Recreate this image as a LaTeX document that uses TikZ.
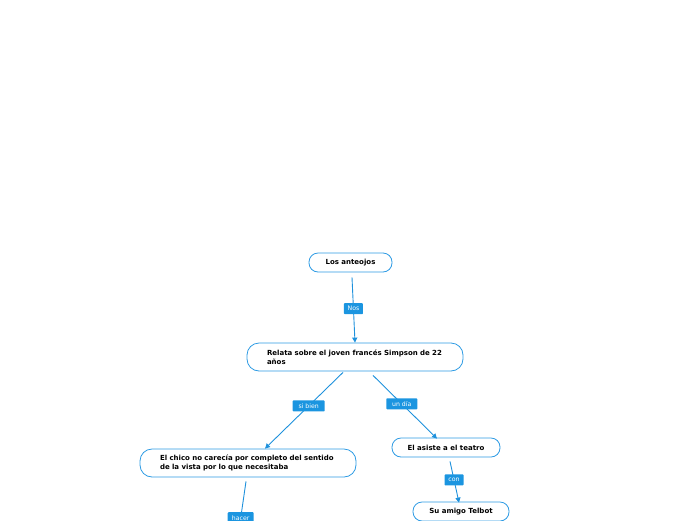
\documentclass[tikz,border=0pt]{standalone}
\usepackage{fontspec}
\setmainfont{DejaVu Sans}
\usetikzlibrary{arrows.meta}
\definecolor{bord}{RGB}{45,155,228}
\definecolor{lblfill}{RGB}{27,149,224}
\definecolor{edgec}{RGB}{30,145,220}
\tikzset{
  x=1pt, y=-1pt,
  concept/.style={draw=bord, line width=0.8pt, rounded corners=9pt, fill=white, inner sep=0pt,
    font=\fontsize{7}{9}\selectfont\bfseries},
  lbl/.style={fill=lblfill, text=white, inner sep=0pt, minimum height=11pt,
    font=\fontsize{6.2}{7}\selectfont, rounded corners=0.8pt},
  conn/.style={draw=edgec, line width=0.9pt, -{Triangle[length=5pt,width=5pt]}},
}
\begin{document}
\begin{tikzpicture}
\useasboundingbox (0,0) rectangle (696,520);
\node[concept, minimum width=83pt, minimum height=19pt] (ant) at (350.5,262.5) {Los anteojos};
\node[concept, minimum width=216pt, minimum height=28pt, rounded corners=12pt, text width=176pt, align=left] (rel) at (355,357)
  {Relata sobre el joven francés Simpson de 22\\años};
\node[concept, minimum width=216pt, minimum height=28pt, rounded corners=12pt, text width=176pt, align=left] (chico) at (248,463)
  {El chico no carecía por completo del sentido\\de la vista por lo que necesitaba};
\node[concept, minimum width=108pt, minimum height=19pt] (asiste) at (446,447.5) {El asiste a el teatro};
\node[concept, minimum width=96pt, minimum height=19pt] (amigo) at (461,511.5) {Su amigo Telbot};
\coordinate (down) at (237.5,540);

\draw[conn] ([xshift=1.5pt,yshift=-5pt]ant.south) -- (rel.north)
  node[lbl, pos=0.48, minimum width=19pt] (l1) {Nos};
\draw[conn] ([xshift=-12pt,yshift=-1pt]rel.south) -- ([xshift=17pt]chico.north)
  node[lbl, pos=0.44, minimum width=32pt] (l2) {si bien};
\draw[conn] ([xshift=18pt,yshift=-4pt]rel.south) -- ([xshift=-9pt,yshift=-1pt]asiste.north)
  node[lbl, pos=0.45, minimum width=31pt] (l3) {un día};
\draw[conn] ([xshift=4pt,yshift=-4pt]asiste.south) -- ([xshift=-2pt,yshift=-1pt]amigo.north)
  node[lbl, pos=0.45, minimum width=19pt] (l4) {con};
\draw[conn] ([xshift=-2pt,yshift=-4pt]chico.south) -- (down)
  node[lbl, pos=0.62, minimum width=26pt] (l5) {hacer};
\end{tikzpicture}
\end{document}
